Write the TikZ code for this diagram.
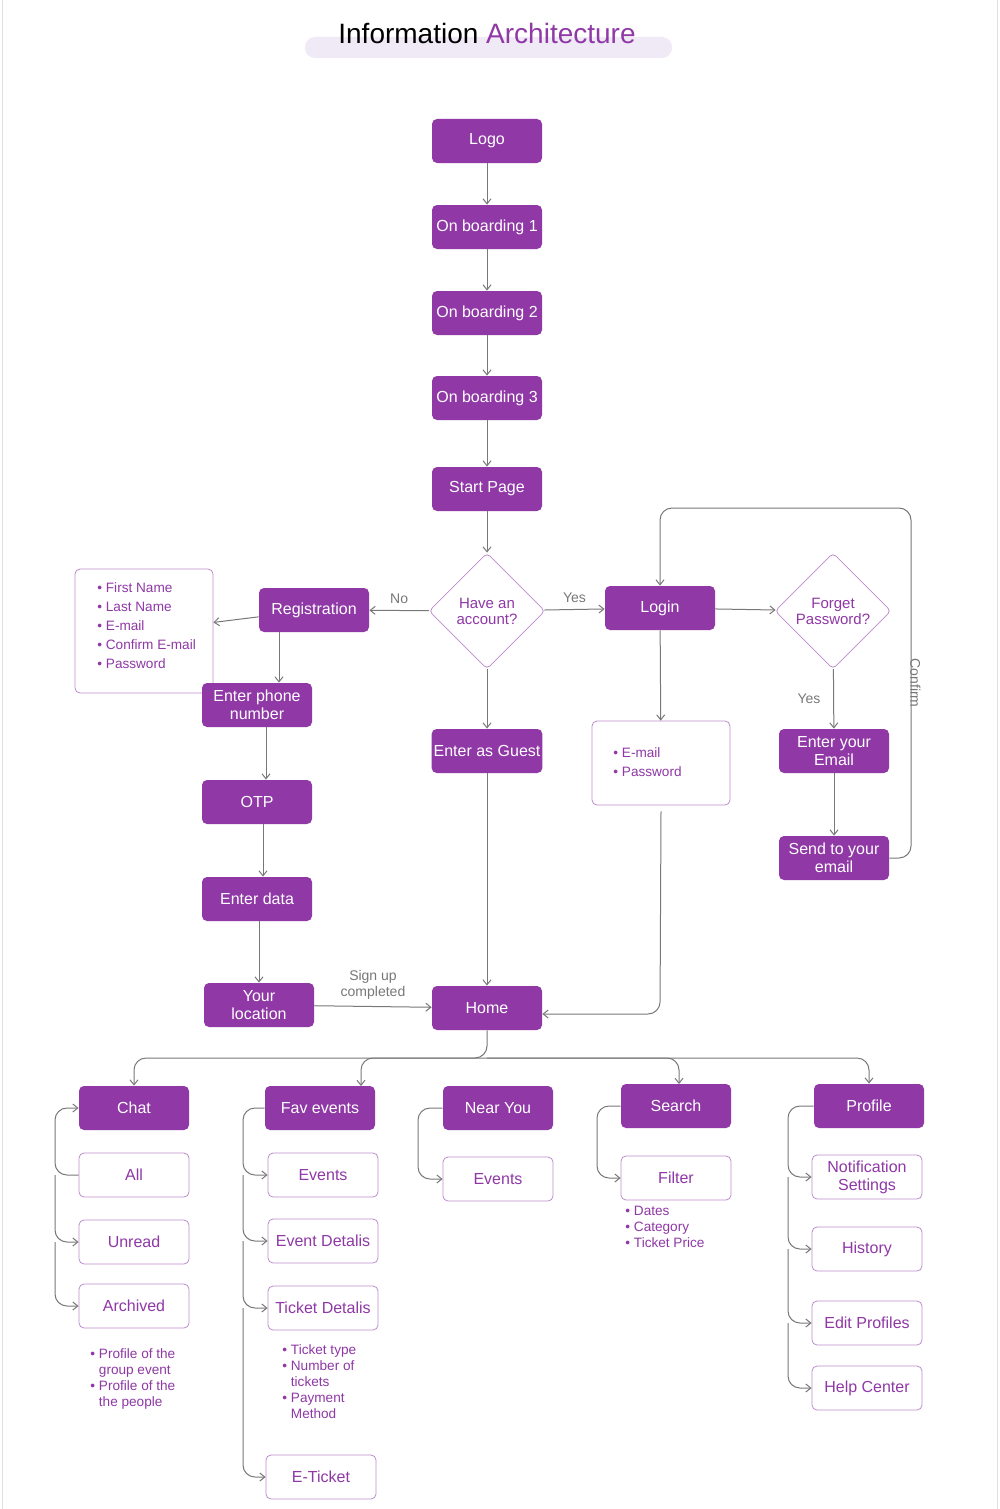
\documentclass[tikz,border=0pt]{standalone}
\usepackage{fontspec}
\setmainfont{Liberation Sans}
\usetikzlibrary{arrows.meta,shapes.geometric}
\definecolor{pur}{RGB}{143,56,166}
\definecolor{lpur}{RGB}{190,140,205}
\definecolor{lav}{RGB}{240,233,246}
\definecolor{ln}{RGB}{120,120,120}
\tikzset{
 x=0.5pt,y=-0.5pt,
 pbox/.style={fill=pur,text=white,rounded corners=2.5pt,minimum width=55pt,minimum height=22pt,align=center,font=\fontsize{8}{9}\selectfont,inner sep=1pt},
 obox/.style={draw=lpur,line width=0.4pt,text=pur,rounded corners=2.5pt,minimum width=55pt,minimum height=22pt,align=center,font=\fontsize{8}{9}\selectfont,inner sep=1pt},
 dbox/.style={diamond,draw=lpur,text=pur,rounded corners=2pt,minimum width=58pt,minimum height=58pt,align=center,font=\fontsize{7.5}{8}\selectfont,inner sep=0pt},
 con/.style={draw=ln,line width=0.5pt,-{Straight Barb[length=2.5pt,width=4pt]},rounded corners=6pt},
 lab/.style={text=ln,font=\fontsize{7}{8}\selectfont,align=center},
 note/.style={text=pur,font=\fontsize{6.8}{8}\selectfont,align=left,anchor=north west,inner sep=0pt}
}
\newcommand{\bl}{\textbullet\ }
\begin{document}
\begin{tikzpicture}
\useasboundingbox (0,0) rectangle (1000,1509);
\fill[white] (0,0) rectangle (1000,1509);
\draw[gray!25] (2,0) -- (2,1509) (997,0) -- (997,1509);
% title
\fill[lav,rounded corners=5pt] (305,37) rectangle (672,58);
\node[font=\fontsize{14}{16}\selectfont] (title) at (487,33) {Information \textcolor{pur}{Architecture}};
% main column
\node[pbox] (logo) at (487,141) {Logo};
\node[pbox] (ob1) at (487,227) {On boarding 1};
\node[pbox] (ob2) at (487,313) {On boarding 2};
\node[pbox] (ob3) at (487,398) {On boarding 3};
\node[pbox] (start) at (487,489) {Start Page};
\node[dbox] (have) at (487,611) {Have an\\account?};
\node[pbox] (reg) at (314,610) {Registration};
\node[pbox] (login) at (660,608) {Login};
\node[dbox] (forget) at (833,611) {Forget\\Password?};
\node[obox,minimum width=69pt,minimum height=62pt] (info) at (144,631) {};
\node[note] (infot) at (97,582) {\bl First Name\\[1.5pt]\bl Last Name\\[1.5pt]\bl E-mail\\[1.5pt]\bl Confirm E-mail\\[1.5pt]\bl Password};
\node[pbox] (phone) at (257,705) {Enter phone\\number};
\node[pbox] (otp) at (257,802) {OTP};
\node[pbox] (data) at (257,899) {Enter data};
\node[pbox] (loc) at (259,1005) {Your\\location};
\node[pbox] (home) at (487,1008) {Home};
\node[pbox] (guest) at (487,751) {Enter as Guest};
\node[obox,minimum width=69pt,minimum height=42pt] (ep) at (661,763) {};
\node[note] (ept) at (613,747) {\bl E-mail\\[1.5pt]\bl Password};
\node[pbox] (eemail) at (834,751) {Enter your\\Email};
\node[pbox] (send) at (834,858) {Send to your\\email};
% connectors
\draw[con] (logo) -- (ob1);
\draw[con] (ob1) -- (ob2);
\draw[con] (ob2) -- (ob3);
\draw[con] (ob3) -- (start);
\draw[con] (start) -- (have);
\draw[con] (have) -- node[lab,above] {No} (reg);
\draw[con] (have) -- node[lab,above] {Yes} (login);
\draw[con] (login) -- (forget);
\draw[con] (reg) -- (info);
\draw[con] (reg.south -| 279,0) -- (phone.north -| 279,0);
\draw[con] (phone.south -| 266,0) -- (otp.north -| 266,0);
\draw[con] (otp.south -| 263,0) -- (data.north -| 263,0);
\draw[con] (data.south -| 259,0) -- (loc.north -| 259,0);
\draw[con] (loc) -- node[lab,above] {Sign up\\completed} (home);
\draw[con] (have) -- (guest);
\draw[con] (guest) -- (home);
\draw[con] (login) -- (ep);
\draw[con] (ep.south) ++(0,6) -- (660,1014) -- (home.east |- 0,1014);
\draw[con] (forget) -- node[lab,left,xshift=-3pt] {Yes} (eemail);
\draw[con] (eemail) -- (send);
\draw[con] (send.east) -- (911,858) -- node[lab,right,rotate=-90,anchor=south,xshift=0pt,yshift=-4pt] {Confirm} (911,508) -- (660,508) -- (login.north);
% bottom level
\node[pbox] (chat) at (134,1108) {Chat};
\node[pbox] (fav) at (320,1108) {Fav events};
\node[pbox] (near) at (498,1108) {Near You};
\node[pbox] (search) at (676,1106) {Search};
\node[pbox] (prof) at (869,1106) {Profile};
\coordinate (hb) at (487,1045);
\draw[con] (home.south) -- (487,1058) -- (134,1058) -- (chat.north);
\draw[con] (487,1058) -- (361,1058) -- (361,1086);
\draw[con] (487,1058) -- (679,1058) -- (679,1084);
\draw[con] (487,1058) -- (869,1058) -- (prof.north);
\node[obox] (all) at (134,1175) {All};
\node[obox] (unread) at (134,1242) {Unread};
\node[obox] (arch) at (134,1306) {Archived};
\node[note] (chatn) at (90,1348) {\bl Profile of the\\\hphantom{\bl}group event\\\bl Profile of the\\\hphantom{\bl}the people};
\node[obox] (fe) at (323,1175) {Events};
\node[obox] (fed) at (323,1241) {Event Detalis};
\node[obox] (ftd) at (323,1308) {Ticket Detalis};
\node[note] (favn) at (282,1344) {\bl Ticket type\\\bl Number of\\\hphantom{\bl}tickets\\\bl Payment\\\hphantom{\bl}Method};
\node[obox] (fet) at (321,1477) {E-Ticket};
\node[obox] (ne) at (498,1179) {Events};
\node[obox] (filt) at (676,1178) {Filter};
\node[note] (searchn) at (625,1206) {\bl Dates\\\bl Category\\\bl Ticket Price};
\node[obox] (pn) at (867,1177) {Notification\\Settings};
\node[obox] (ph) at (867,1249) {History};
\node[obox] (pe) at (867,1323) {Edit Profiles};
\node[obox] (pc) at (867,1388) {Help Center};
% rails
\draw[con] (all.west) -- (55,1175) -- (55,1108) -- (chat.west);
\draw[con] (55,1175) -- (55,1242) -- (unread.west);
\draw[con] (55,1242) -- (55,1306) -- (arch.west);
\draw[con] (fav.west) -- (243,1108) -- (243,1175) -- (fe.west);
\draw[con] (243,1175) -- (243,1241) -- (fed.west);
\draw[con] (243,1241) -- (243,1308) -- (ftd.west);
\draw[con] (243,1308) -- (243,1477) -- (fet.west);
\draw[con] (near.west) -- (418,1108) -- (418,1179) -- (ne.west);
\draw[con] (search.west) -- (597,1106) -- (597,1178) -- (filt.west);
\draw[con] (prof.west) -- (788,1106) -- (788,1177) -- (pn.west);
\draw[con] (788,1177) -- (788,1249) -- (ph.west);
\draw[con] (788,1249) -- (788,1323) -- (pe.west);
\draw[con] (788,1323) -- (788,1388) -- (pc.west);
\end{tikzpicture}
\end{document}
